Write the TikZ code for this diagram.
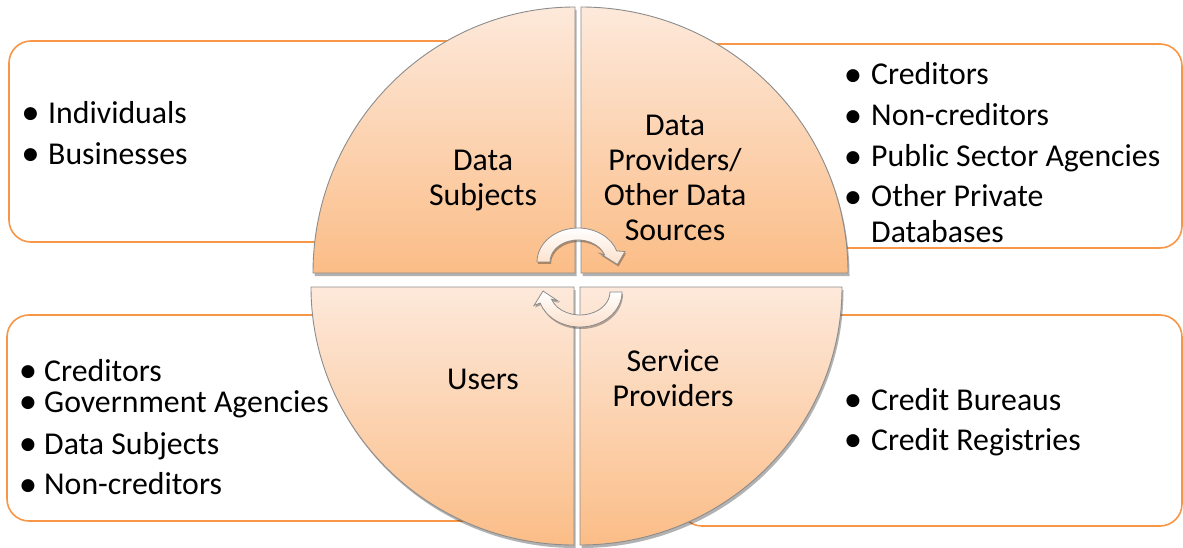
\documentclass[tikz,border=0pt]{standalone}
\usepackage{fontspec}
\setmainfont{Carlito}
\newfontfamily\bulfont{DejaVu Sans}
\usetikzlibrary{shadows}
\definecolor{boxorange}{HTML}{F79646}
\definecolor{qtop}{HTML}{FDE9DB}
\definecolor{qbot}{HTML}{FBBD87}
\definecolor{qline}{HTML}{8C8C8C}
\definecolor{arrbot}{HTML}{FCE0CB}
\newcommand{\bul}[1]{\llap{\makebox[#1][l]{\raisebox{4.5pt}{\bulfont\fontsize{17}{17}\selectfont ●}}}}
\begin{document}
\begin{tikzpicture}[x=1pt,y=-1pt,
  listbox/.style={draw=boxorange, line width=1.6pt, rounded corners=22pt, fill=white},
  quarter/.style={drop shadow={shadow xshift=1.5pt, shadow yshift=-3pt, opacity=0.3, fill=black},
                  draw=qline, line width=0.9pt, top color=qtop, bottom color=qbot},
  cyclearrow/.style={drop shadow={shadow xshift=1pt, shadow yshift=-2pt, opacity=0.3, fill=black},
                  draw=qline, line width=0.8pt, top color=white, bottom color=arrbot},
  itemtext/.style={anchor=base west, inner sep=0pt, font=\fontsize{31.8}{35}\selectfont},
  qlabel/.style={anchor=base, inner sep=0pt, font=\fontsize{31.8}{35}\selectfont}]
\useasboundingbox (0,0) rectangle (1183,548);

% list boxes (behind the circle)
\draw[listbox] (9,41) rectangle (545,242);
\draw[listbox] (610,44) rectangle (1182,248);
\draw[listbox] (7,315) rectangle (545,521);
\draw[listbox] (680,315) rectangle (1182,526);

% quarters
\path[quarter] (575,273) -- (313,273) arc[start angle=180, end angle=270, x radius=262, y radius=266] -- cycle;
\path[quarter] (581,273) -- (581,7) arc[start angle=270, end angle=360, x radius=267, y radius=266] -- cycle;
\path[quarter] (574,287) -- (311,287) arc[start angle=180, end angle=90, x radius=263, y radius=258] -- cycle;
\path[quarter] (580,287) -- (842,287) arc[start angle=0, end angle=90, x radius=262, y radius=258] -- cycle;

% cycle arrows
\path[cyclearrow] (537,262) arc[start angle=180, end angle=341, x radius=41, y radius=34]
  -- (625,251.5) -- (617.5,264.5) -- (600,253.5) -- (604.5,254.8)
  arc[start angle=341, end angle=180, x radius=28, y radius=22] -- cycle;
\path[cyclearrow] (622,292) arc[start angle=0, end angle=161.7, x radius=42, y radius=35]
  -- (534,305.5) -- (543,291) -- (558,301) -- (551.5,299.2)
  arc[start angle=161.7, end angle=0, x radius=30, y radius=23] -- cycle;

% quarter labels
\node[qlabel] (subj) at (483,171) {\begin{tabular}[t]{@{}c@{}}Data\\Subjects\end{tabular}};
\node[qlabel] (prov) at (675,136) {\begin{tabular}[t]{@{}c@{}}Data\\Providers/\\Other Data\\Sources\end{tabular}};
\node[qlabel] (users) at (483,389) {Users};
\node[qlabel] (serv) at (673,371) {\begin{tabular}[t]{@{}c@{}}Service\\Providers\end{tabular}};

% top-left list
\node[itemtext] (tl1) at (48,123.5) {\bul{25pt}Individuals};
\node[itemtext] (tl2) at (48,164.5) {\bul{25pt}Businesses};

% top-right list
\node[itemtext] (tr1) at (871,85) {\bul{25.5pt}Creditors};
\node[itemtext] (tr2) at (871,126) {\bul{25.5pt}Non-creditors};
\node[itemtext] (tr3) at (871,167) {\bul{25.5pt}Public Sector Agencies};
\node[itemtext] (tr4) at (871,207) {\bul{25.5pt}Other Private};
\node[itemtext] (tr5) at (871,242) {Databases};

% bottom-left list (one block: the first two lines sit close together)
\node[itemtext, font=\fontsize{31.8}{31}\selectfont] (bl) at (44,381)
  {\begin{tabular}[t]{@{}l@{}}
   \bul{23.5pt}Creditors\\
   \bul{23.5pt}Government Agencies\\[10.5pt]
   \bul{23.5pt}Data Subjects\\[9.5pt]
   \bul{23.5pt}Non-creditors
   \end{tabular}};

% bottom-right list
\node[itemtext] (br1) at (871,410) {\bul{25.5pt}Credit Bureaus};
\node[itemtext] (br2) at (871,450) {\bul{25.5pt}Credit Registries};
\end{tikzpicture}
\end{document}
